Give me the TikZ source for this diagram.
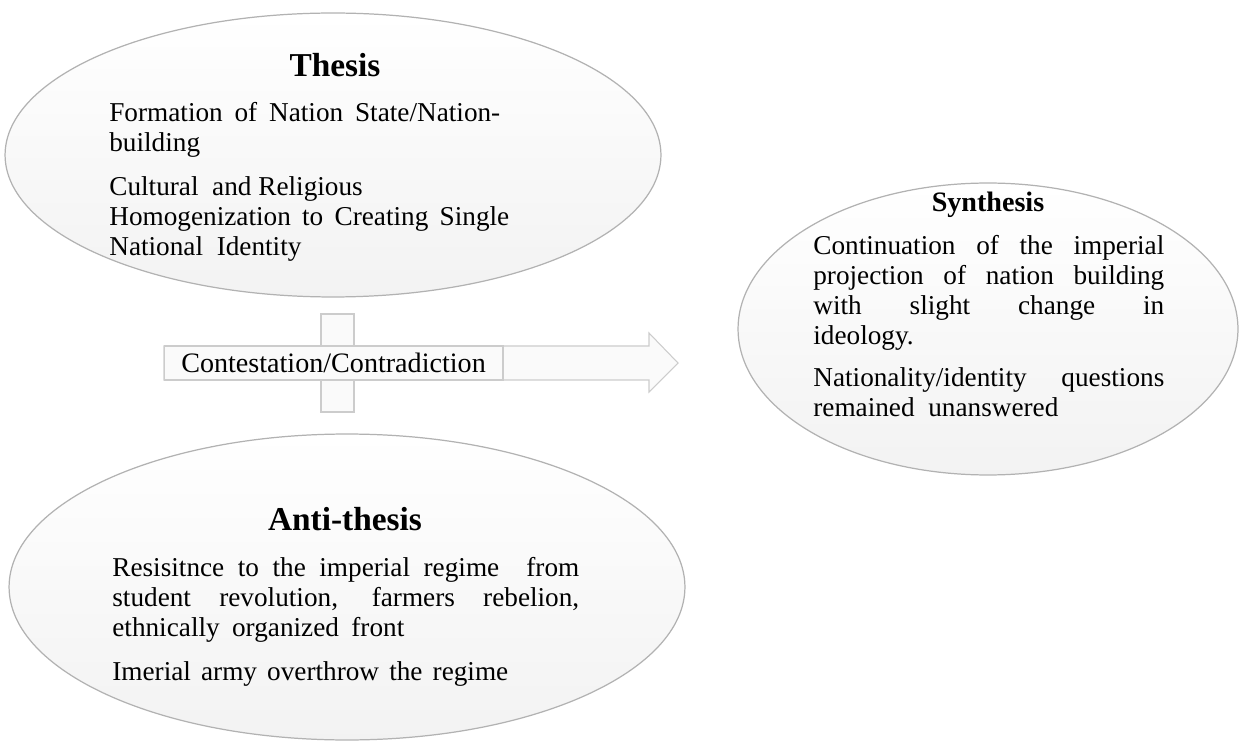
\documentclass[tikz,border=0pt]{standalone}
\usepackage{fontspec}
\setmainfont{Liberation Serif}
\usetikzlibrary{shapes.geometric}
\newcommand{\jline}[2]{\makebox[#1][s]{#2}}

\begin{document}
\begin{tikzpicture}[x=0.02cm,y=-0.02cm,
    bubble/.style={ellipse,draw=gray!60,line width=0.7pt,top color=white,middle color=white,bottom color=gray!10},
    title/.style={anchor=base,font=\fontsize{19}{22}\selectfont\bfseries},
    body/.style={anchor=north west,inner sep=0pt,align=left,font=\fontsize{15.5}{17.07}\selectfont},
    plate/.style={draw=gray!40,fill=gray!4,line width=0.6pt}]

    \useasboundingbox (0,0) rectangle (1246,749);

    % Define ellipses
    \node[bubble,minimum width=13.12cm,minimum height=5.68cm] (thesis) at (333,155) {};
    \node[bubble,minimum width=13.52cm,minimum height=6.12cm] (antithesis) at (347,587) {};
    \node[bubble,minimum width=10cm,minimum height=5.84cm] (synthesis) at (988,329) {};

    % Titles
    \node[title] (thesistitle) at (335,77) {Thesis};
    \node[title] (antititle) at (345,530) {Anti-thesis};
    \node[title,font=\fontsize{16}{19}\selectfont\bfseries] (synthtitle) at (988,212) {Synthesis};

    % Texts
    \node[body] (thesistext) at (109,102)
        {\jline{7.82cm}{Formation of Nation State/Nation-}\\building\\[8pt]
         Cultural\ \ and Religious\\\jline{8cm}{Homogenization to Creating Single}\\National\ \ Identity};
    \node[body] (antitext) at (112,557)
        {\jline{9.34cm}{Resisitnce to the imperial regime\ \ from}\\\jline{9.34cm}{student revolution, farmers rebelion,}\\
         \jline{5.84cm}{ethnically organized front}\\[8pt]\jline{7.92cm}{Imerial army overthrow the regime}};
    \node[body] (synthtext) at (813,235)
        {\jline{7.02cm}{Continuation of the imperial}\\\jline{7.02cm}{projection of nation building}\\
         \jline{7.02cm}{with slight change in}\\ideology.\\[7pt]
         \jline{7.02cm}{Nationality/identity questions}\\remained\ \ unanswered};

    % Cross and arrow
    \node[plate,minimum width=0.66cm,minimum height=1.96cm] (bar) at (337.5,363) {};
    \coordinate (tip) at (678,363);
    \draw[plate] (164,346) -- (649,346) -- (649,333) -- (tip) -- (649,392) -- (649,380) -- (164,380) -- cycle;
    \node[plate,minimum width=6.78cm,minimum height=0.68cm,inner sep=0pt,font=\fontsize{16}{19}\selectfont] (contest) at (333.5,363) {Contestation/Contradiction};

\end{tikzpicture}
\end{document}
